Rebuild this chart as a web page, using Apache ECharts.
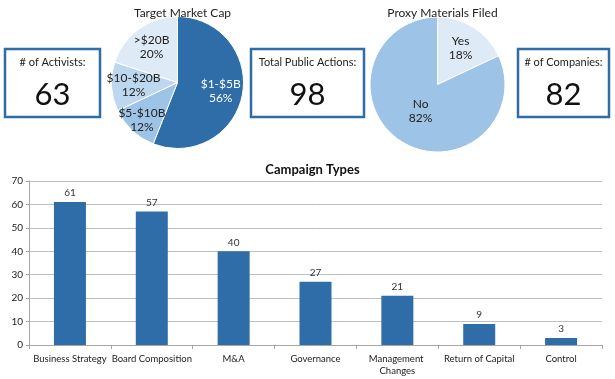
<!DOCTYPE html>
<html>
<head>
<meta charset="utf-8">
<script src="https://cdn.jsdelivr.net/npm/echarts@6/dist/echarts.min.js"></script>
<style>
html,body{margin:0;padding:0;background:#fff;}
#c{width:615px;height:379px;}
</style>
</head>
<body>
<div id="c"></div>
<script>
// ---- data ----
var kpiLabels = ['# of Activists:', 'Total Public Actions:', '# of Companies:'];
var kpiValues = [63, 98, 82];

var capNames = ['$1-$5B', '$5-$10B', '$10-$20B', '>$20B'];
var capValues = [56, 12, 12, 20];

var proxyNames = ['Yes', 'No'];
var proxyValues = [18, 82];

var campaignTypes = ['Business Strategy', 'Board Composition', 'M&A', 'Governance', 'Management Changes', 'Return of Capital', 'Control'];
var campaignCounts = [61, 57, 40, 27, 21, 9, 3];

// ---- styles ----
var FONT = 'Lato';
var DARK = '#2E6DA8';
var capColors = ['#2E6DA8', '#9DC3E6', '#BDD7EE', '#DEEBF7'];
var proxyColors = ['#DEEBF7', '#9DC3E6'];
var capLabelColors = ['#ffffff', '#222222', '#222222', '#222222'];

var chart = echarts.init(document.getElementById('c'), null, {renderer: 'canvas'});

function pieData(names, values, colors) {
  return names.map(function (n, i) {
    return {name: n, value: values[i], itemStyle: {color: colors[i]}};
  });
}
function labelPieData(names, values, colors, showIdx) {
  return names.map(function (n, i) {
    return {name: n, value: values[i],
      label: {show: showIdx.indexOf(i) >= 0, color: colors[i]}};
  });
}
function labelPie(center, radius, names, values, colors, showIdx) {
  return {
    type: 'pie', center: center, radius: [0, radius], silent: true,
    startAngle: 90, clockwise: true, z: 5,
    itemStyle: {color: 'rgba(0,0,0,0)', borderWidth: 0},
    label: {show: true, position: 'inside', formatter: '{b}\n{c}%',
      fontFamily: FONT, fontSize: 12, lineHeight: 14},
    labelLine: {show: false},
    emphasis: {disabled: true},
    tooltip: {show: false},
    data: labelPieData(names, values, colors, showIdx)
  };
}

var boxes = [
  {x: 5, y: 49, w: 95, h: 68},
  {x: 251, y: 49, w: 113, h: 68},
  {x: 518, y: 49, w: 91, h: 68}
];
var graphics = [];
boxes.forEach(function (b, i) {
  graphics.push({type: 'rect', shape: {x: b.x, y: b.y, width: b.w, height: b.h},
    style: {fill: '#fff', stroke: DARK, lineWidth: 2.5}, z: 10});
  graphics.push({type: 'text', x: b.x + b.w / 2, y: 62,
    style: {text: kpiLabels[i], fontFamily: FONT, fontSize: 11, fill: '#222',
      align: 'center', verticalAlign: 'middle'}, z: 11});
  graphics.push({type: 'text', x: b.x + b.w / 2, y: 95,
    style: {text: String(kpiValues[i]), fontFamily: FONT, fontSize: 31, fill: '#111',
      align: 'center', verticalAlign: 'middle'}, z: 11});
});

var capCenter = [177.5, 82.5];
var proxyCenter = [437.5, 84.5];

chart.setOption({
  animation: false,
  textStyle: {fontFamily: FONT},
  title: [
    {text: 'Target Market Cap', left: 177.5, textAlign: 'center', top: 2,
      textStyle: {fontFamily: FONT, fontSize: 12, fontWeight: 'normal', color: '#222'}},
    {text: 'Proxy Materials Filed', left: 437.5, textAlign: 'center', top: 2,
      textStyle: {fontFamily: FONT, fontSize: 12, fontWeight: 'normal', color: '#222'}},
    {text: 'Campaign Types', left: 307.5, textAlign: 'center', top: 158,
      textStyle: {fontFamily: FONT, fontSize: 13, fontWeight: 'bold', color: '#111'}}
  ],
  grid: {left: 29, right: 13, top: 181, bottom: 34},
  xAxis: {
    type: 'category', data: campaignTypes,
    axisLine: {lineStyle: {color: '#A6A6A6'}},
    axisTick: {show: true, length: 4, lineStyle: {color: '#A6A6A6'}},
    axisLabel: {interval: 0, fontFamily: FONT, fontSize: 9.5, color: '#222', margin: 8,
      width: 86, overflow: 'break', lineHeight: 12}
  },
  yAxis: {
    type: 'value', min: 0, max: 70, interval: 10,
    axisLine: {show: true, lineStyle: {color: '#A6A6A6'}},
    axisTick: {show: true, length: 3, lineStyle: {color: '#A6A6A6'}},
    axisLabel: {fontFamily: FONT, fontSize: 10, color: '#222', margin: 6},
    splitLine: {lineStyle: {color: '#BFBFBF'}}
  },
  series: [
    {
      type: 'bar', data: campaignCounts, barWidth: 32,
      itemStyle: {color: DARK},
      label: {show: true, position: 'top', distance: 4, fontFamily: FONT, fontSize: 10, color: '#333'}
    },
    {
      type: 'pie', center: capCenter, radius: [0, 66],
      startAngle: 90, clockwise: true,
      itemStyle: {borderColor: '#fff', borderWidth: 1},
      label: {show: false}, labelLine: {show: false},
      emphasis: {disabled: true},
      data: pieData(capNames, capValues, capColors)
    },
    labelPie(capCenter, 82, capNames, capValues, capLabelColors, [0, 2, 3]),
    labelPie(capCenter, 98, capNames, capValues, capLabelColors, [1]),
    {
      type: 'pie', center: proxyCenter, radius: [0, 67.5],
      startAngle: 90, clockwise: true,
      itemStyle: {borderColor: '#fff', borderWidth: 1},
      label: {show: false}, labelLine: {show: false},
      emphasis: {disabled: true},
      data: pieData(proxyNames, proxyValues, proxyColors)
    },
    labelPie(proxyCenter, 80, proxyNames, proxyValues, ['#222', '#222'], [0]),
    labelPie(proxyCenter, 57, proxyNames, proxyValues, ['#222', '#222'], [1])
  ],
  graphic: graphics
});
</script>
</body>
</html>
